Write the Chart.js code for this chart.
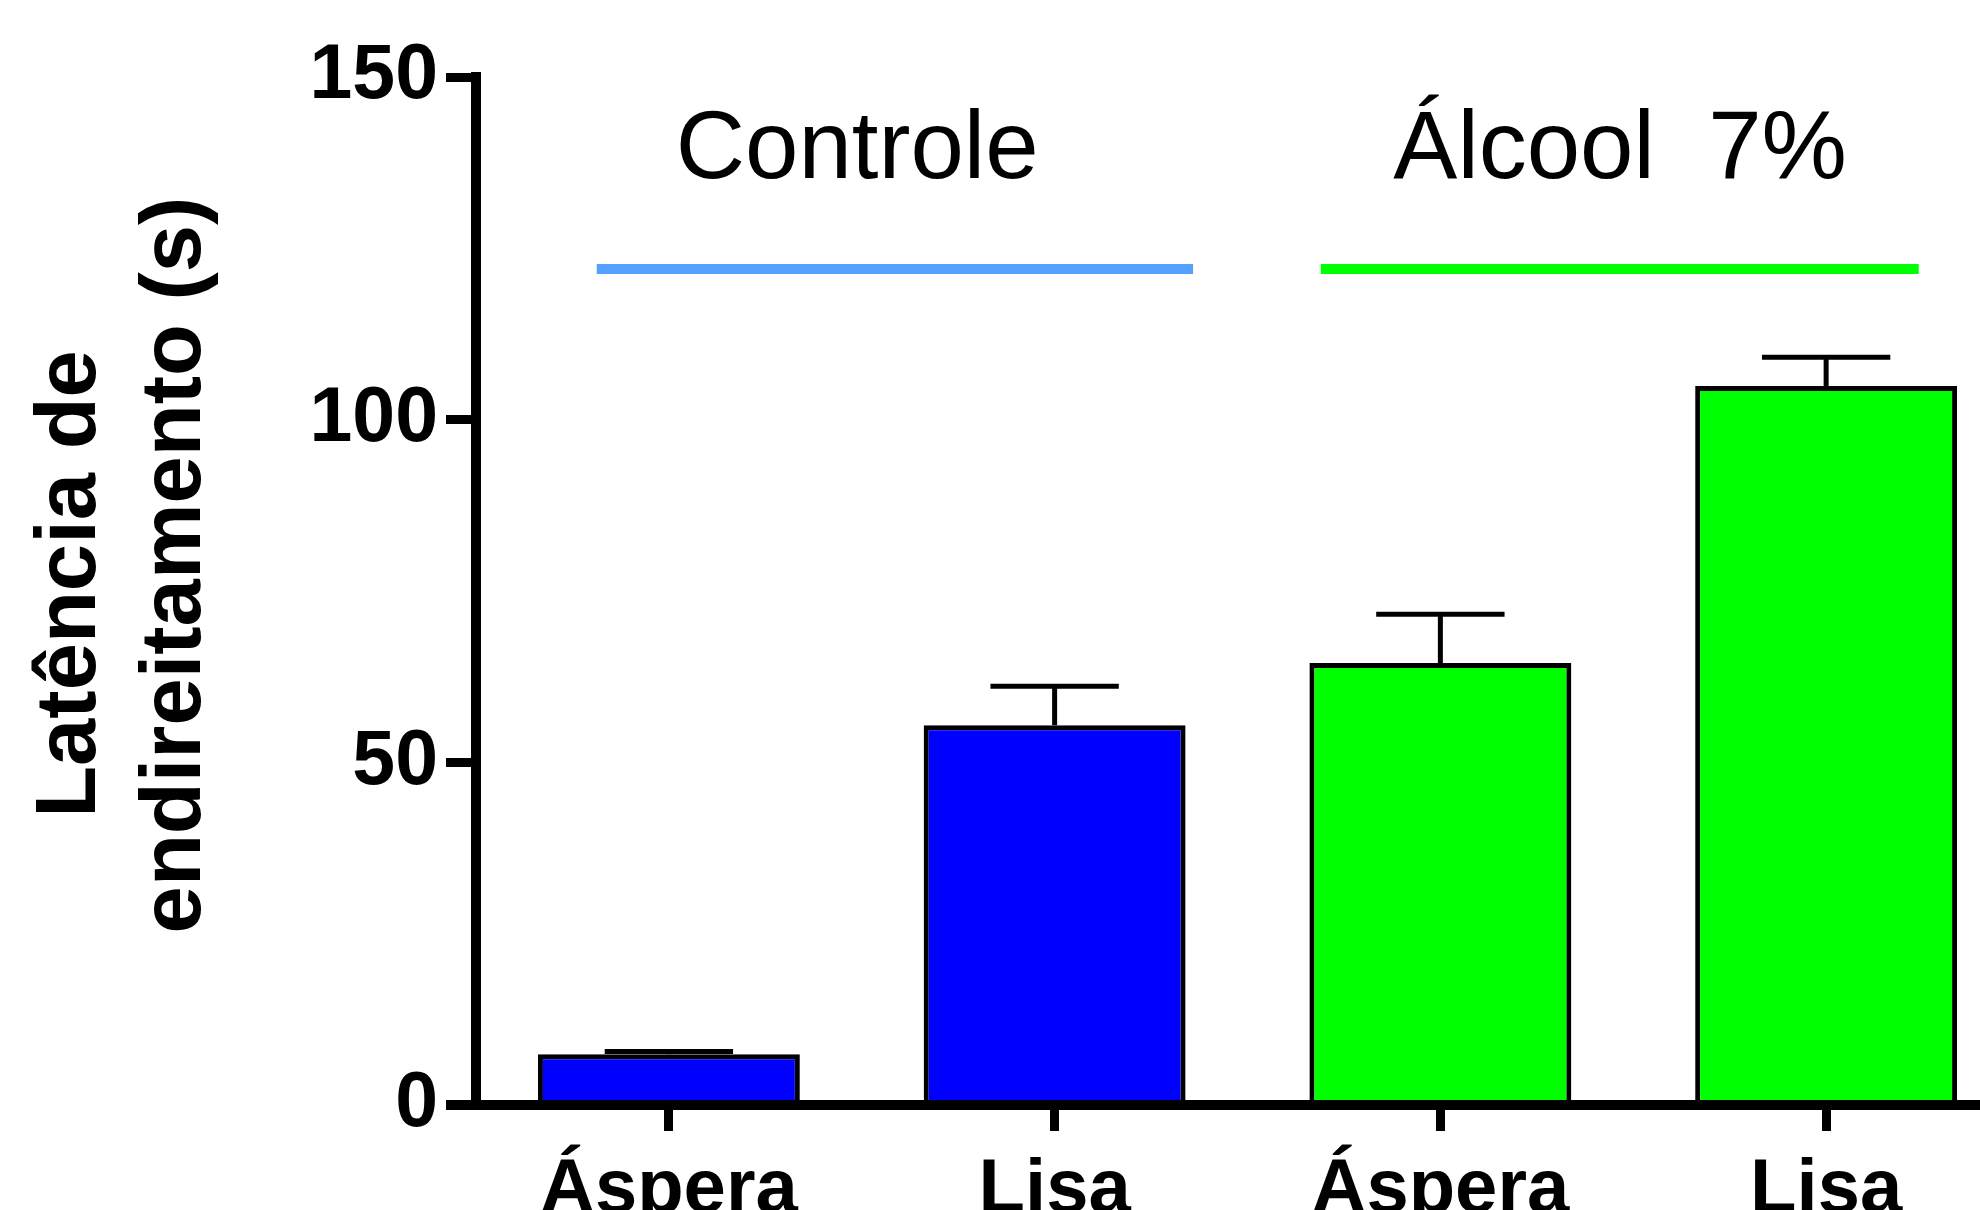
<!DOCTYPE html>
<html>
<head>
<meta charset="utf-8">
<script src="https://cdn.jsdelivr.net/npm/chart.js@4.4.0/dist/chart.umd.min.js"></script>
<style>
  html, body { margin: 0; padding: 0; background: #fff; overflow: hidden; }
  #wrap { position: absolute; left: 0; top: 0; }
</style>
</head>
<body>
<div id="wrap"><canvas id="latencia" width="2030" height="1260"></canvas></div>
<script>
// data
const categories = ["Áspera", "Lisa", "Áspera", "Lisa"];
const latencyMean = [7.4, 55.4, 64.5, 104.9];
const latencySem = [0.4, 5.7, 7.1, 4.2];
const groupNames = ["Controle", "Álcool  7%"];
const yTicks = [0, 50, 100, 150];
const yTitle = ["Latência de", "endireitamento (s)"];

const FONT = "'Liberation Sans', Arial, sans-serif";

// upper error bars (mean + SEM) with caps
const errorBars = {
  id: "errorBars",
  afterDatasetsDraw(chart) {
    const ctx = chart.ctx;
    const y = chart.scales.y;
    const meta = chart.getDatasetMeta(0);
    ctx.save();
    ctx.strokeStyle = "#000";
    ctx.lineWidth = 5;
    meta.data.forEach((bar, i) => {
      const top = y.getPixelForValue(latencyMean[i] + latencySem[i]);
      const capHalf = bar.width * 0.245;
      ctx.beginPath();
      ctx.moveTo(bar.x, bar.y);
      ctx.lineTo(bar.x, top);
      ctx.moveTo(bar.x - capHalf, top);
      ctx.lineTo(bar.x + capHalf, top);
      ctx.stroke();
    });
    ctx.restore();
  }
};

// group labels with coloured bars above the columns
const groupMarks = {
  id: "groupMarks",
  afterDraw(chart, args, opts) {
    const ctx = chart.ctx;
    const x = chart.scales.x;
    const y = chart.scales.y;
    ctx.save();
    groupNames.forEach((name, g) => {
      const span = opts.spans[g];
      const ly = y.getPixelForValue(opts.lineValue);
      ctx.strokeStyle = opts.colors[g];
      ctx.lineWidth = 10;
      ctx.beginPath();
      ctx.moveTo(x.getPixelForValue(span[0]), ly);
      ctx.lineTo(x.getPixelForValue(span[1]), ly);
      ctx.stroke();

      ctx.fillStyle = "#000";
      ctx.font = "96px " + FONT;
      ctx.textAlign = "center";
      ctx.textBaseline = "alphabetic";
      ctx.fillText(name, x.getPixelForValue(opts.labelAt[g]), y.getPixelForValue(opts.labelValue));
    });
    ctx.restore();
  }
};

// two-line rotated y title (the original sits a bit above the axis middle)
const yTitleDraw = {
  id: "yTitleDraw",
  afterDraw(chart, args, opts) {
    const ctx = chart.ctx;
    ctx.save();
    ctx.fillStyle = "#000";
    ctx.font = "bold 85px " + FONT;
    ctx.textAlign = "center";
    ctx.textBaseline = "middle";
    yTitle.forEach((line, i) => {
      ctx.save();
      ctx.translate(opts.x[i], opts.y[i]);
      ctx.rotate(-Math.PI / 2);
      ctx.fillText(line, 0, 0);
      ctx.restore();
    });
    ctx.restore();
  }
};

new Chart(document.getElementById("latencia").getContext("2d"), {
  type: "bar",
  data: {
    labels: categories,
    datasets: [{
      data: latencyMean,
      backgroundColor: ["#0000ff", "#0000ff", "#00ff00", "#00ff00"],
      borderColor: "#000",
      borderWidth: 5,
      borderSkipped: "bottom",
      categoryPercentage: 1,
      barPercentage: 0.679
    }]
  },
  options: {
    responsive: false,
    devicePixelRatio: 1,
    animation: false,
    layout: { padding: { top: 77, right: 11, left: 0, bottom: 0 } },
    plugins: {
      legend: { display: false },
      tooltip: { enabled: false },
      groupMarks: {
        spans: [[-0.187, 1.359], [1.69, 3.24]],
        labelAt: [0.488, 2.466],
        lineValue: 122,
        labelValue: 135.3,
        colors: ["#55a0ff", "#00ff00"]
      },
      yTitleDraw: { x: [72, 177], y: [584, 565] }
    },
    scales: {
      x: {
        offset: true,
        afterFit(s) { s.height = 155; },
        grid: {
          offset: false,
          drawOnChartArea: false,
          drawTicks: true,
          tickLength: 26,
          lineWidth: 9,
          color: "#000"
        },
        border: { display: true, width: 10, color: "#000" },
        ticks: {
          color: "#000",
          padding: 14,
          maxRotation: 0,
          font: { family: FONT, size: 76, weight: "bold" }
        }
      },
      y: {
        min: 0,
        max: 150,
        afterFit(s) { s.width = 476; },
        afterBuildTicks(s) { s.ticks = yTicks.map(v => ({ value: v })); },
        grid: {
          drawOnChartArea: false,
          drawTicks: true,
          tickLength: 30,
          lineWidth: c => (c.tick && c.tick.value === 0 ? 10 : 9),
          color: "#000"
        },
        border: { display: true, width: 10, color: "#000" },
        ticks: {
          color: "#000",
          padding: 8,
          font: { family: FONT, size: 77, weight: "bold" }
        }
      }
    }
  },
  plugins: [errorBars, groupMarks, yTitleDraw]
});
</script>
</body>
</html>
